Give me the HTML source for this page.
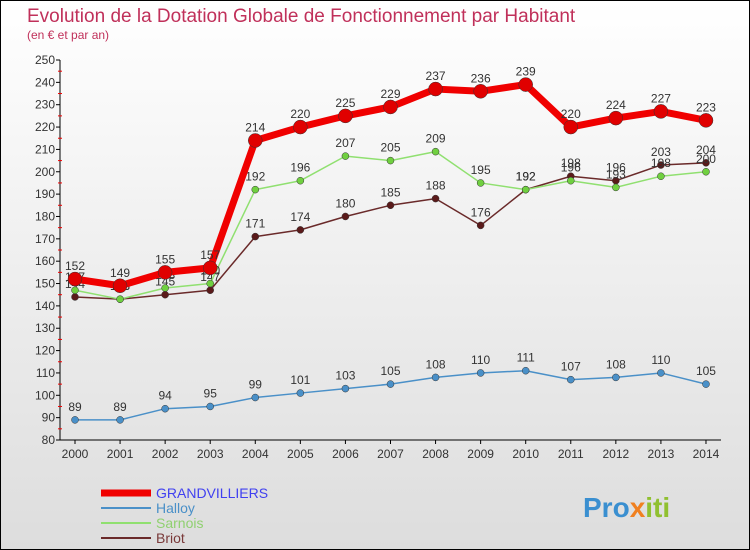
<!DOCTYPE html>
<html><head><meta charset="utf-8"><style>
body{margin:0}
#c{width:750px;height:550px;position:relative;box-sizing:border-box;border:1px solid #000;background:linear-gradient(#fff,#ddd);font-family:"Liberation Sans",sans-serif;overflow:hidden}
</style></head><body>
<div id="c">
<svg id="s" width="748" height="548" xmlns="http://www.w3.org/2000/svg">
<text x="26" y="21" font-size="19" fill="#c0305a">Evolution de la Dotation Globale de Fonctionnement par Habitant</text>
<text x="26" y="38" font-size="12" fill="#c0305a">(en € et par an)</text>
<g id="ax"></g><g id="ser"></g>
<g id="leg"></g>
<text x="582" y="516" font-size="28" font-weight="bold" fill="#3a8fd0">Pro<tspan fill="#f08020">x</tspan><tspan fill="#90c030">iti</tspan></text>
</svg>
</div>
<script>
const years=[2000,2001,2002,2003,2004,2005,2006,2007,2008,2009,2010,2011,2012,2013,2014];
const grandvilliers=[152,149,155,157,214,220,225,229,237,236,239,220,224,227,223];
const halloy=[89,89,94,95,99,101,103,105,108,110,111,107,108,110,105];
const sarnois=[147,143,148,150,192,196,207,205,209,195,192,196,193,198,200];
const briot=[144,143,145,147,171,174,180,185,188,176,192,198,196,203,204];
const yTicks=[80,90,100,110,120,130,140,150,160,170,180,190,200,210,220,230,240,250];
const NS="http://www.w3.org/2000/svg";
const X=i=>74+i*45.07, Y=v=>439-(v-80)*380/170;
function mk(t,a,p){const e=document.createElementNS(NS,t);for(const k in a)e.setAttribute(k,a[k]);p.appendChild(e);return e;}
const ax=document.getElementById('ax');
const yl=mk('line',{x1:59,y1:Y(250),x2:59,y2:Y(80),stroke:'#000'},ax);


yTicks.forEach(v=>{
 mk('line',{x1:55,y1:Y(v),x2:59,y2:Y(v),stroke:'#000'},ax);
 mk('line',{x1:57,y1:Y(v+5),x2:61,y2:Y(v+5),stroke:v<250?'#e00':'none'},ax);
 const t=mk('text',{x:54,y:Y(v)+4,'font-size':12,fill:'#333','text-anchor':'end'},ax);t.textContent=v;
 
 
});
const xl=mk('line',{x1:59,y1:Y(80),x2:720,y2:Y(80),stroke:'#000'},ax);


years.forEach((y,i)=>{
 mk('line',{x1:X(i),y1:Y(80),x2:X(i),y2:Y(80)+4,stroke:'#000'},ax);
 const t=mk('text',{x:X(i),y:Y(80)+18,'font-size':12,fill:'#333','text-anchor':'middle'},ax);t.textContent=y;
 
 
});
const ser=document.getElementById('ser');
const series=[
 {name:'halloy',d:halloy,c:'#4a90c8',w:1.5,r:3.5,f:'#4a90c8'},
 {name:'briot',d:briot,c:'#6a2a2a',w:1.5,r:3.5,f:'#5a1a1a'},
 {name:'sarnois',d:sarnois,c:'#90e070',w:1.5,r:3.5,f:'#70d040'},
 {name:'grandvilliers',d:grandvilliers,c:'#f00000',w:7,r:7,f:'#e00000'}];
series.forEach(s=>{
 const g=mk('g',{},ser);
 
 
 mk('polyline',{points:s.d.map((v,i)=>X(i)+','+Y(v)).join(' '),fill:'none',stroke:s.c,'stroke-width':s.w,'stroke-linejoin':'round'},g);
 s.d.forEach((v,i)=>{
  const p=mk('circle',{cx:X(i),cy:Y(v),r:s.r,fill:s.f,stroke:'#333','stroke-width':0.5},g);
  
  
  const t=mk('text',{x:X(i),y:Y(v)-9,'font-size':12,fill:'#333','text-anchor':'middle'},g);t.textContent=v;
  
  
 });
});
const leg=document.getElementById('leg');
[['GRANDVILLIERS','#f00000',7,'#4040f0'],['Halloy','#4a90c8',2,'#4a90c8'],['Sarnois','#90e070',2,'#90d070'],['Briot','#6a2a2a',2,'#7a3a3a']].forEach((l,i)=>{
 const g=mk('g',{},leg);
 
 
 const y=492+i*15;
 mk('line',{x1:100,y1:y,x2:150,y2:y,stroke:l[1],'stroke-width':l[2]},g);
 const t=mk('text',{x:155,y:y+5,'font-size':14,fill:l[3]},g);t.textContent=l[0];
});
</script>
</body></html>
